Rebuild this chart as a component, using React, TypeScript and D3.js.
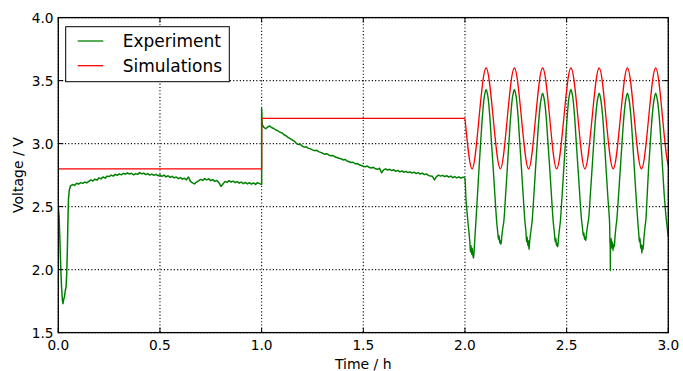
import React from "react";
import * as d3 from "d3";

// ---------- data ----------
const xTickValues = [0, 0.5, 1.0, 1.5, 2.0, 2.5, 3.0];
const yTickValues = [1.5, 2.0, 2.5, 3.0, 3.5, 4.0];
const seriesNames = ["Experiment", "Simulations"];
const seriesColors = ["#008000", "#ff0000"];
const xLabel = "Time / h";
const yLabel = "Voltage / V";

// Experiment: start-up dip (time h, voltage V)
const expDip: [number, number][] = [
  [0.0, 2.5], [0.004, 2.42], [0.008, 2.22], [0.012, 2.02], [0.016, 1.86],
  [0.020, 1.76], [0.023, 1.73], [0.026, 1.76], [0.030, 1.78], [0.034, 1.83],
  [0.038, 1.86], [0.041, 1.95], [0.044, 2.12], [0.047, 2.36], [0.050, 2.56],
  [0.054, 2.63],
];

// Experiment: first plateau, sampled from t = 0.06 h every 0.01 h
const expPlateau1Start = 0.06;
const expPlateau1Step = 0.01;
const expPlateau1: number[] = [
  2.665, 2.675, 2.668, 2.685, 2.678, 2.690, 2.684, 2.695, 2.688, 2.700,
  2.712, 2.703, 2.718, 2.710, 2.728, 2.720, 2.735, 2.726, 2.742, 2.738,
  2.750, 2.742, 2.756, 2.748, 2.760, 2.752, 2.764, 2.757, 2.768, 2.758,
  2.765, 2.752, 2.762, 2.756, 2.770, 2.760, 2.766, 2.754, 2.762, 2.750,
  2.758, 2.748, 2.756, 2.745, 2.752, 2.740, 2.750, 2.736, 2.745, 2.732,
  2.740, 2.728, 2.735, 2.722, 2.730, 2.718, 2.725, 2.712, 2.735, 2.700,
  2.688, 2.680, 2.695, 2.705, 2.716, 2.708, 2.722, 2.712, 2.720, 2.706,
  2.714, 2.700, 2.708, 2.690, 2.660, 2.680, 2.700, 2.692, 2.706, 2.695,
  2.702, 2.690, 2.698, 2.686, 2.695, 2.682, 2.692, 2.680, 2.690, 2.678,
  2.688, 2.676, 2.690, 2.682, 2.675,
];

// Experiment: current step at t = 1 h
const expJump: [number, number][] = [
  [1.0, 3.28], [1.003, 3.15],
];

// Experiment: second plateau, sampled from t = 1.01 h every 0.01 h
const expPlateau2Start = 1.01;
const expPlateau2Step = 0.01;
const expPlateau2: number[] = [
  3.130, 3.118, 3.132, 3.140, 3.126, 3.120, 3.108, 3.102, 3.090, 3.085,
  3.070, 3.062, 3.050, 3.040, 3.030, 3.020, 3.004, 2.992, 2.995, 2.980,
  2.972, 2.975, 2.962, 2.958, 2.950, 2.944, 2.948, 2.936, 2.930, 2.924,
  2.915, 2.920, 2.910, 2.904, 2.906, 2.895, 2.890, 2.884, 2.880, 2.870,
  2.874, 2.862, 2.856, 2.850, 2.852, 2.840, 2.842, 2.832, 2.826, 2.820,
  2.816, 2.822, 2.810, 2.806, 2.812, 2.800, 2.796, 2.804, 2.768, 2.792,
  2.800, 2.790, 2.796, 2.786, 2.792, 2.780, 2.788, 2.776, 2.784, 2.772,
  2.780, 2.770, 2.776, 2.766, 2.774, 2.762, 2.770, 2.758, 2.766, 2.754,
  2.760, 2.748, 2.742, 2.740, 2.712, 2.738, 2.750, 2.742, 2.748, 2.738,
  2.745, 2.734, 2.742, 2.730, 2.738, 2.728, 2.736, 2.726, 2.734, 2.728,
];

// Experiment: sinusoidal load (time h, voltage V)
const expOscillation: [number, number][] = [
  [2.000, 2.728],
  [2.002, 2.68], [2.005, 2.56], [2.010, 2.46], [2.015, 2.37], [2.020, 2.29],
  [2.024, 2.22], [2.027, 2.14], [2.030, 2.19], [2.033, 2.12], [2.036, 2.17],
  [2.039, 2.11], [2.042, 2.09], [2.045, 2.15], [2.049, 2.26], [2.053, 2.36],
  [2.060, 2.55], [2.069, 2.80], [2.078, 3.03], [2.087, 3.24], [2.096, 3.38],
  [2.104, 3.43], [2.112, 3.38], [2.121, 3.24], [2.130, 3.02], [2.139, 2.80],
  [2.148, 2.57], [2.156, 2.38],
  [2.161, 2.30], [2.165, 2.24], [2.168, 2.27], [2.171, 2.21], [2.174, 2.23],
  [2.177, 2.20], [2.181, 2.26], [2.186, 2.33], [2.191, 2.38], [2.199, 2.57],
  [2.208, 2.80], [2.217, 3.03], [2.226, 3.24], [2.235, 3.38], [2.243, 3.43],
  [2.251, 3.38], [2.260, 3.24], [2.269, 3.02], [2.278, 2.80], [2.287, 2.57],
  [2.295, 2.38],
  [2.300, 2.30], [2.303, 2.22], [2.306, 2.26], [2.309, 2.19], [2.312, 2.23],
  [2.315, 2.16], [2.318, 2.22], [2.322, 2.28], [2.330, 2.38], [2.338, 2.57],
  [2.347, 2.80], [2.356, 3.02], [2.365, 3.22], [2.374, 3.35], [2.382, 3.40],
  [2.390, 3.35], [2.399, 3.22], [2.408, 3.01], [2.417, 2.80], [2.426, 2.57],
  [2.434, 2.38],
  [2.440, 2.29], [2.444, 2.22], [2.447, 2.25], [2.450, 2.19], [2.453, 2.21],
  [2.456, 2.18], [2.460, 2.25], [2.464, 2.31], [2.469, 2.38], [2.477, 2.57],
  [2.486, 2.80], [2.495, 3.03], [2.504, 3.24], [2.513, 3.38], [2.521, 3.43],
  [2.529, 3.38], [2.538, 3.24], [2.547, 3.02], [2.556, 2.80], [2.565, 2.58],
  [2.573, 2.40],
  [2.578, 2.33], [2.582, 2.27], [2.585, 2.29], [2.588, 2.24], [2.591, 2.26],
  [2.594, 2.23], [2.598, 2.29], [2.603, 2.35], [2.608, 2.40], [2.616, 2.58],
  [2.625, 2.80], [2.634, 3.02], [2.643, 3.22], [2.652, 3.35], [2.660, 3.40],
  [2.668, 3.35], [2.677, 3.22], [2.686, 3.01], [2.694, 2.80], [2.703, 2.57],
  [2.711, 2.38],
  [2.713, 2.22], [2.714, 2.20], [2.715, 1.99], [2.716, 2.18], [2.719, 2.25],
  [2.722, 2.17], [2.725, 2.22], [2.728, 2.15], [2.731, 2.20], [2.734, 2.18],
  [2.738, 2.26], [2.742, 2.33], [2.747, 2.40], [2.755, 2.58], [2.764, 2.80],
  [2.773, 3.02], [2.782, 3.22], [2.791, 3.35], [2.799, 3.40], [2.807, 3.35],
  [2.816, 3.22], [2.825, 3.01], [2.833, 2.80], [2.842, 2.57], [2.850, 2.38],
  [2.855, 2.28], [2.858, 2.22], [2.861, 2.25], [2.864, 2.17], [2.867, 2.20],
  [2.870, 2.13], [2.873, 2.19], [2.876, 2.16], [2.880, 2.25], [2.885, 2.33],
  [2.890, 2.40], [2.895, 2.55], [2.903, 2.80], [2.912, 3.02], [2.921, 3.22],
  [2.930, 3.35], [2.938, 3.40], [2.946, 3.35], [2.955, 3.22], [2.964, 3.01],
  [2.972, 2.80], [2.981, 2.57], [2.990, 2.40], [3.000, 2.26],
];

// Simulation: constant-current steps
const simSteps: [number, number][] = [
  [0.0, 2.8], [1.0, 2.8], [1.0, 3.2], [2.0, 3.2],
];
// Simulation: sinusoidal load (zero crossings and extrema)
const simOscillation: [number, number][] = [
  [2.000, 3.2], [2.035, 2.8], [2.069, 3.2], [2.104, 3.6], [2.139, 3.2],
  [2.174, 2.8], [2.208, 3.2], [2.243, 3.6], [2.278, 3.2], [2.313, 2.8],
  [2.347, 3.2], [2.382, 3.6], [2.417, 3.2], [2.451, 2.8], [2.486, 3.2],
  [2.521, 3.6], [2.556, 3.2], [2.590, 2.8], [2.625, 3.2], [2.660, 3.6],
  [2.694, 3.2], [2.729, 2.8], [2.764, 3.2], [2.799, 3.6], [2.833, 3.2],
  [2.868, 2.8], [2.903, 3.2], [2.938, 3.6], [2.972, 3.2], [3.007, 2.8],
  [3.042, 3.2],
];

// ---------- chart ----------
const W = 683;
const H = 371;
const PL = 58.3, PR = 668.3, PT = 17.6, PB = 332.6;
const FONT = "'DejaVu Sans', sans-serif";

export default function App() {
  const x = d3.scaleLinear().domain([0, 3]).range([PL, PR]);
  const y = d3.scaleLinear().domain([1.5, 4]).range([PB, PT]);

  const expStepPoints: [number, number][] = [
    ...expDip,
    ...expPlateau1.map((v, i) => [expPlateau1Start + i * expPlateau1Step, v] as [number, number]),
    ...expJump,
    ...expPlateau2.map((v, i) => [expPlateau2Start + i * expPlateau2Step, v] as [number, number]),
  ];

  const lineLinear = d3.line<[number, number]>().x((d) => x(d[0])).y((d) => y(d[1]));
  const lineSmooth = d3
    .line<[number, number]>()
    .x((d) => x(d[0]))
    .y((d) => y(d[1]))
    .curve(d3.curveCatmullRom.alpha(0.5));
  const lineNatural = d3
    .line<[number, number]>()
    .x((d) => x(d[0]))
    .y((d) => y(d[1]))
    .curve(d3.curveNatural);

  const tickLen = 5;
  const fmt = d3.format(".1f");

  return (
    <svg
      width={W}
      height={H}
      style={{ position: "absolute", left: 0, top: 0, background: "#fff" }}
      fontFamily={FONT}
    >
      <defs>
        <clipPath id="plotclip">
          <rect x={PL} y={PT} width={PR - PL} height={PB - PT} />
        </clipPath>
      </defs>
      <rect x={0} y={0} width={W} height={H} fill="#fff" />

      {/* grid */}
      <g stroke="#000" strokeWidth={1.1} strokeDasharray="1.1,2.2">
        {xTickValues.map((t) => (
          <line key={"gx" + t} x1={x(t)} x2={x(t)} y1={PT} y2={PB} />
        ))}
        {yTickValues.map((t) => (
          <line key={"gy" + t} x1={PL} x2={PR} y1={y(t)} y2={y(t)} />
        ))}
      </g>

      {/* series */}
      <g clipPath="url(#plotclip)" fill="none" strokeLinejoin="round">
        <path d={lineLinear(expStepPoints) || ""} stroke={seriesColors[0]} strokeWidth={1.5} />
        <path d={lineSmooth(expOscillation) || ""} stroke={seriesColors[0]} strokeWidth={1.4} />
        <path d={lineLinear(simSteps) || ""} stroke={seriesColors[1]} strokeWidth={1.3} />
        <path d={lineNatural(simOscillation) || ""} stroke={seriesColors[1]} strokeWidth={1.3} />
      </g>

      {/* ticks */}
      <g stroke="#000" strokeWidth={1}>
        {xTickValues.map((t) => (
          <g key={"tx" + t}>
            <line x1={x(t)} x2={x(t)} y1={PB} y2={PB - tickLen} />
            <line x1={x(t)} x2={x(t)} y1={PT} y2={PT + tickLen} />
          </g>
        ))}
        {yTickValues.map((t) => (
          <g key={"ty" + t}>
            <line x1={PL} x2={PL + tickLen} y1={y(t)} y2={y(t)} />
            <line x1={PR} x2={PR - tickLen} y1={y(t)} y2={y(t)} />
          </g>
        ))}
      </g>

      {/* frame */}
      <rect x={PL} y={PT} width={PR - PL} height={PB - PT} fill="none" stroke="#000" strokeWidth={1.3} />

      {/* tick labels */}
      <g fontSize={13.7} fill="#000">
        {xTickValues.map((t) => (
          <text key={"lx" + t} x={x(t)} y={350} textAnchor="middle">
            {fmt(t)}
          </text>
        ))}
        {yTickValues.map((t) => (
          <text key={"ly" + t} x={53.5} y={y(t)} dy="0.36em" textAnchor="end">
            {fmt(t)}
          </text>
        ))}
      </g>

      {/* axis labels */}
      <text x={(PL + PR) / 2} y={369} textAnchor="middle" fontSize={14}>
        {xLabel}
      </text>
      <text transform={`translate(23, ${(PT + PB) / 2}) rotate(-90)`} textAnchor="middle" fontSize={14}>
        {yLabel}
      </text>

      {/* legend */}
      <g>
        <rect x={65.7} y={26.7} width={163.6} height={55} fill="#fff" stroke="#000" strokeWidth={1} />
        {seriesNames.map((name, i) => (
          <g key={name}>
            <line
              x1={77.7}
              x2={103.3}
              y1={41 + i * 24.7}
              y2={41 + i * 24.7}
              stroke={seriesColors[i]}
              strokeWidth={1.3}
            />
            <text x={122.7} y={46.8 + i * 24.7} fontSize={17}>
              {name}
            </text>
          </g>
        ))}
      </g>
    </svg>
  );
}
